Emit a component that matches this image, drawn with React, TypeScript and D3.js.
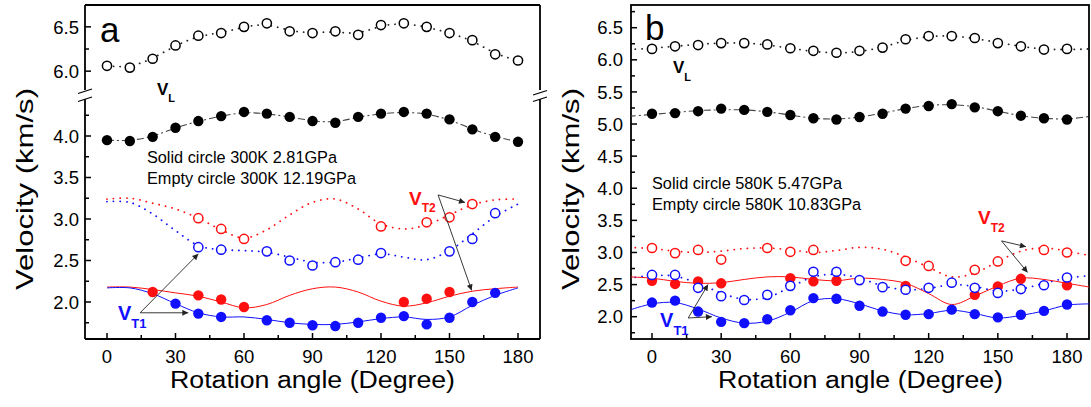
import React from "react";
import * as d3 from "d3";

// ---------- data ----------
const ANGLES = [0, 10, 20, 30, 40, 50, 60, 70, 80, 90, 100, 110, 120, 130, 140, 150, 160, 170, 180];
const FIT_ANGLES_B = [-10, 0, 10, 20, 30, 40, 50, 60, 70, 80, 90, 100, 110, 120, 130, 140, 150, 160, 170, 180, 190];
const X_MAJOR = [0, 30, 60, 90, 120, 150, 180];
const X_MINOR = [15, 45, 75, 105, 135, 165];
const Y_MAJOR_A_UPPER = [6.0, 6.5];
const Y_MINOR_A_UPPER = [6.25, 6.75];
const Y_MAJOR_A_LOWER = [2.0, 2.5, 3.0, 3.5, 4.0];
const Y_MINOR_A_LOWER = [1.75, 2.25, 2.75, 3.25, 3.75, 4.25];
const Y_MAJOR_B = [2.0, 2.5, 3.0, 3.5, 4.0, 4.5, 5.0, 5.5, 6.0, 6.5];
const Y_MINOR_B = [1.75, 2.25, 2.75, 3.25, 3.75, 4.25, 4.75, 5.25, 5.75, 6.25, 6.75];

// Panel a (300K)
const vLEmptyA = [6.06, 6.04, 6.14, 6.29, 6.40, 6.43, 6.50, 6.54, 6.45, 6.43, 6.45, 6.41, 6.52, 6.54, 6.50, 6.43, 6.35, 6.19, 6.12];
const vLSolidA = [3.95, 3.94, 3.99, 4.10, 4.18, 4.24, 4.29, 4.27, 4.23, 4.18, 4.16, 4.23, 4.27, 4.29, 4.27, 4.20, 4.08, 3.99, 3.93];
const redEmptyAAngles = [40, 50, 60, 120, 140, 150, 160];
const redEmptyA = [3.01, 2.88, 2.76, 2.91, 2.96, 3.02, 3.18];
const redEmptyFitA = [3.24, 3.25, 3.19, 3.12, 3.01, 2.87, 2.77, 2.87, 3.05, 3.20, 3.24, 3.12, 2.94, 2.88, 2.93, 3.05, 3.17, 3.23, 3.24];
const blueEmptyAAngles = [40, 50, 70, 80, 90, 100, 110, 120, 150, 160, 170];
const blueEmptyA = [2.66, 2.63, 2.61, 2.50, 2.44, 2.48, 2.51, 2.59, 2.61, 2.76, 3.07];
const blueEmptyFitA = [3.21, 3.20, 3.06, 2.86, 2.68, 2.63, 2.62, 2.60, 2.54, 2.48, 2.48, 2.53, 2.58, 2.54, 2.51, 2.62, 2.82, 3.03, 3.18];
const redSolidAAngles = [20, 40, 50, 60, 130, 140, 150];
const redSolidA = [2.12, 2.08, 2.03, 1.94, 2.00, 2.04, 2.12];
const redSolidFitA = [2.18, 2.18, 2.15, 2.11, 2.07, 2.00, 1.93, 1.97, 2.08, 2.16, 2.18, 2.12, 2.01, 1.95, 1.99, 2.07, 2.13, 2.16, 2.18];
const blueSolidAAngles = [30, 40, 50, 70, 80, 90, 100, 110, 120, 130, 140, 150, 160, 170];
const blueSolidA = [1.98, 1.86, 1.82, 1.78, 1.75, 1.72, 1.71, 1.75, 1.81, 1.83, 1.73, 1.81, 2.00, 2.11];
const blueSolidFitA = [2.17, 2.17, 2.10, 1.98, 1.87, 1.82, 1.82, 1.79, 1.75, 1.73, 1.73, 1.76, 1.80, 1.82, 1.79, 1.82, 1.96, 2.08, 2.17];

// Panel b (580K)
const vLEmptyB = [6.17, 6.21, 6.23, 6.26, 6.26, 6.24, 6.18, 6.14, 6.11, 6.14, 6.19, 6.32, 6.37, 6.37, 6.34, 6.26, 6.21, 6.16, 6.17];
const vLEmptyFitB = [6.16, 6.18, 6.21, 6.24, 6.26, 6.26, 6.23, 6.18, 6.13, 6.11, 6.13, 6.20, 6.30, 6.36, 6.37, 6.33, 6.27, 6.21, 6.17, 6.16, 6.17];
const vLSolidB = [5.16, 5.17, 5.20, 5.24, 5.22, 5.19, 5.14, 5.09, 5.07, 5.11, 5.16, 5.24, 5.28, 5.31, 5.26, 5.20, 5.13, 5.09, 5.07];
const vLSolidFitB = [5.12, 5.15, 5.18, 5.21, 5.22, 5.22, 5.19, 5.14, 5.09, 5.08, 5.11, 5.17, 5.24, 5.29, 5.30, 5.27, 5.20, 5.13, 5.09, 5.08, 5.12];
const redEmptyBAngles = [0, 10, 20, 30, 50, 60, 70, 110, 120, 140, 150, 170, 180];
const redEmptyB = [3.07, 2.99, 3.04, 2.89, 3.07, 3.01, 3.04, 2.87, 2.79, 2.73, 2.86, 3.04, 3.00];
const redEmptyFitB = [3.08, 3.06, 3.02, 3.00, 3.02, 3.06, 3.07, 3.04, 3.00, 3.03, 3.08, 3.05, 2.93, 2.77, 2.62, 2.68, 2.86, 3.02, 3.07, 3.02, 2.95];
const blueEmptyB = [2.65, 2.65, 2.45, 2.32, 2.26, 2.34, 2.48, 2.70, 2.70, 2.57, 2.46, 2.42, 2.45, 2.53, 2.45, 2.37, 2.43, 2.49, 2.61];
const blueEmptyFitB = [2.60, 2.64, 2.63, 2.52, 2.37, 2.27, 2.30, 2.46, 2.62, 2.66, 2.60, 2.48, 2.42, 2.44, 2.50, 2.47, 2.40, 2.43, 2.52, 2.60, 2.64];
const redSolidBAngles = [0, 10, 20, 30, 60, 70, 80, 110, 140, 150, 160, 180];
const redSolidB = [2.56, 2.51, 2.55, 2.52, 2.60, 2.55, 2.56, 2.48, 2.34, 2.47, 2.59, 2.49];
const redSolidFitB = [2.62, 2.60, 2.55, 2.52, 2.53, 2.58, 2.62, 2.62, 2.58, 2.56, 2.60, 2.58, 2.52, 2.36, 2.19, 2.32, 2.48, 2.60, 2.58, 2.52, 2.46];
const blueSolidB = [2.22, 2.25, 2.08, 1.92, 1.90, 1.96, 2.10, 2.29, 2.28, 2.17, 2.08, 2.03, 2.04, 2.11, 2.04, 1.99, 2.03, 2.09, 2.19];
const blueSolidFitB = [2.10, 2.20, 2.22, 2.12, 1.98, 1.90, 1.93, 2.07, 2.25, 2.28, 2.20, 2.09, 2.03, 2.05, 2.10, 2.05, 1.98, 2.02, 2.09, 2.18, 2.20];

const LEGEND_A = ["Solid circle 300K 2.81GPa", "Empty circle 300K 12.19GPa"];
const LEGEND_B = ["Solid circle 580K 5.47GPa", "Empty circle 580K 10.83GPa"];

// ---------- style ----------
const FONT = "'Liberation Sans', Arial, Helvetica, sans-serif";
const RED = "#ff1010";
const BLUE = "#1010ff";
const fmt = d3.format(".1f");

type Scale = d3.ScaleLinear<number, number>;

function path(xs: number[], ys: number[], x: Scale, y: Scale, curve: d3.CurveFactory) {
  const pts = xs.map((a, i) => [a, ys[i]] as [number, number]);
  return d3.line<[number, number]>().x((d) => x(d[0])).y((d) => y(d[1])).curve(curve)(pts) || "";
}

function Dots({ xs, ys, x, y, color, empty }: { xs: number[]; ys: number[]; x: Scale; y: Scale; color: string; empty: boolean }) {
  return (
    <g>
      {xs.map((a, i) => (
        <circle
          key={i}
          cx={x(a)}
          cy={y(ys[i])}
          r={empty ? 4.6 : 5.2}
          fill={empty ? "white" : color}
          stroke={color}
          strokeWidth={empty ? 1.5 : 0}
        />
      ))}
    </g>
  );
}

const dotted = (color: string) => ({ fill: "none", stroke: color, strokeWidth: 1.8, strokeDasharray: "0.1 6.5", strokeLinecap: "round" as const });
const solidLine = (color: string) => ({ fill: "none", stroke: color, strokeWidth: 1 });
const dashDot = { fill: "none", stroke: "#444", strokeWidth: 1.1, strokeDasharray: "7 3 2 3" };

function Arrow({ x1, y1, x2, y2 }: { x1: number; y1: number; x2: number; y2: number }) {
  return <line x1={x1} y1={y1} x2={x2} y2={y2} stroke="#222" strokeWidth={0.9} markerEnd="url(#arrowhead)" />;
}

function Label({ x, y, main, sub, color, size, subSize, subDy }: { x: number; y: number; main: string; sub: string; color: string; size: number; subSize: number; subDy: number }) {
  return (
    <text x={x} y={y} fill={color} fontFamily={FONT} fontWeight="bold" fontSize={size}>
      {main}
      <tspan dy={subDy} fontSize={subSize}>{sub}</tspan>
    </text>
  );
}

function XAxis({ x, bottom, cx }: { x: Scale; bottom: number; cx: number }) {
  return (
    <g>
      {X_MAJOR.map((t) => (
        <g key={"M" + t}>
          <line x1={x(t)} x2={x(t)} y1={bottom} y2={bottom - 6} stroke="black" strokeWidth={1.5} />
          <text x={x(t)} y={363} textAnchor="middle" fontFamily={FONT} fontSize={18.5}>{t}</text>
        </g>
      ))}
      {X_MINOR.map((t) => (
        <line key={"m" + t} x1={x(t)} x2={x(t)} y1={bottom} y2={bottom - 4} stroke="black" strokeWidth={1.5} />
      ))}
      <text x={cx - 142} y={388} fontFamily={FONT} fontSize={23.5} textLength={285} lengthAdjust="spacingAndGlyphs">Rotation angle (Degree)</text>
    </g>
  );
}

function YTicks({ y, left, labelX, major, minor }: { y: Scale; left: number; labelX: number; major: number[]; minor: number[] }) {
  return (
    <g>
      {major.map((t) => (
        <g key={"M" + t}>
          <line x1={left} x2={left + 6} y1={y(t)} y2={y(t)} stroke="black" strokeWidth={1.5} />
          <text x={labelX} y={y(t)} dy="0.36em" textAnchor="end" fontFamily={FONT} fontSize={18.5}>{fmt(t)}</text>
        </g>
      ))}
      {minor.map((t) => (
        <line key={"m" + t} x1={left} x2={left + 4} y1={y(t)} y2={y(t)} stroke="black" strokeWidth={1.5} />
      ))}
    </g>
  );
}

function YTitle({ x, cy }: { x: number; cy: number }) {
  return (
    <text transform={`translate(${x},${cy + 101}) rotate(-90)`} fontFamily={FONT} fontSize={24} textLength={202} lengthAdjust="spacingAndGlyphs">
      Velocity (km/s)
    </text>
  );
}

function PanelA() {
  const left = 85, right = 540, top = 5, bottom = 339;
  const x = d3.scaleLinear().domain([0, 180]).range([107, 518]);
  const yU = d3.scaleLinear().domain([6.0, 6.5]).range([71.15, 26.85]);
  const yL = d3.scaleLinear().domain([2.0, 4.0]).range([302, 136]);
  const gapTop = 90, gapBot = 99;
  const curve = d3.curveCatmullRom;
  return (
    <g>
      {/* frame */}
      <g stroke="black" strokeWidth={1.8} fill="none">
        <line x1={left} x2={right} y1={top} y2={top} />
        <line x1={left} x2={right} y1={bottom} y2={bottom} />
        <line x1={left} x2={left} y1={top} y2={gapTop} />
        <line x1={left} x2={left} y1={gapBot} y2={bottom} />
        <line x1={right} x2={right} y1={top} y2={gapTop} />
        <line x1={right} x2={right} y1={gapBot} y2={bottom} />
      </g>
      <g stroke="black" strokeWidth={1.3}>
        <line x1={left - 7} y1={93.5} x2={left + 7} y2={89} />
        <line x1={left - 7} y1={101.5} x2={left + 7} y2={97} />
        <line x1={right - 7} y1={95} x2={right + 7} y2={90.5} />
        <line x1={right - 7} y1={101.5} x2={right + 7} y2={97} />
      </g>
      <YTicks y={yU} left={left} labelX={79} major={Y_MAJOR_A_UPPER} minor={Y_MINOR_A_UPPER} />
      <YTicks y={yL} left={left} labelX={79} major={Y_MAJOR_A_LOWER} minor={Y_MINOR_A_LOWER} />
      <XAxis x={x} bottom={bottom} cx={312} />
      <YTitle x={33} cy={189} />

      {/* lines */}
      <path d={path(ANGLES, vLEmptyA, x, yU, d3.curveBasis)} {...dotted("#222")} />
      <path d={path(ANGLES, vLSolidA, x, yL, d3.curveBasis)} {...dashDot} />
      <path d={path(ANGLES, redEmptyFitA, x, yL, curve)} {...dotted(RED)} />
      <path d={path(ANGLES, blueEmptyFitA, x, yL, curve)} {...dotted(BLUE)} />
      <path d={path(ANGLES, redSolidFitA, x, yL, curve)} {...solidLine(RED)} />
      <path d={path(ANGLES, blueSolidFitA, x, yL, curve)} {...solidLine(BLUE)} />

      {/* markers */}
      <Dots xs={ANGLES} ys={vLEmptyA} x={x} y={yU} color="black" empty />
      <Dots xs={ANGLES} ys={vLSolidA} x={x} y={yL} color="black" empty={false} />
      <Dots xs={redEmptyAAngles} ys={redEmptyA} x={x} y={yL} color={RED} empty />
      <Dots xs={blueEmptyAAngles} ys={blueEmptyA} x={x} y={yL} color={BLUE} empty />
      <Dots xs={redSolidAAngles} ys={redSolidA} x={x} y={yL} color={RED} empty={false} />
      <Dots xs={blueSolidAAngles} ys={blueSolidA} x={x} y={yL} color={BLUE} empty={false} />

      {/* annotations */}
      <text x={100} y={42} fontFamily={FONT} fontSize={35}>a</text>
      <Label x={x(21.9)} y={95} main="V" sub="L" color="black" size={17} subSize={11} subDy={7} />
      {LEGEND_A.map((s, i) => (
        <text key={s} x={x(17.5)} y={163 + i * 21} fontFamily={FONT} fontSize={16.3}>{s}</text>
      ))}
      <Label x={x(132.3)} y={yL(3.17)} main="V" sub="T2" color={RED} size={19} subSize={12} subDy={7} />
      <Label x={x(4.8)} y={yL(1.78)} main="V" sub="T1" color={BLUE} size={20} subSize={13} subDy={8} />
      <Arrow x1={x(145)} y1={yL(3.29)} x2={x(156.8)} y2={yL(3.20)} />
      <Arrow x1={x(145)} y1={yL(3.29)} x2={x(159.7)} y2={yL(2.14)} />
      <Arrow x1={x(14.5)} y1={yL(1.87)} x2={x(40)} y2={yL(2.58)} />
      <Arrow x1={x(14.5)} y1={yL(1.87)} x2={x(35.6)} y2={yL(1.87)} />
    </g>
  );
}

function PanelB() {
  const left = 631, right = 1089, top = 5, bottom = 339;
  const x = d3.scaleLinear().domain([0, 180]).range([652, 1067]);
  const y = d3.scaleLinear().domain([2.0, 6.5]).range([316.7, 27.7]);
  const curve = d3.curveCatmullRom;
  return (
    <g>
      <defs>
        <clipPath id="clipB">
          <rect x={left} y={top} width={right - left} height={bottom - top} />
        </clipPath>
      </defs>
      <rect x={left} y={top} width={right - left} height={bottom - top} fill="none" stroke="black" strokeWidth={1.8} />
      <YTicks y={y} left={left} labelX={623} major={Y_MAJOR_B} minor={Y_MINOR_B} />
      <XAxis x={x} bottom={bottom} cx={860} />
      <YTitle x={579} cy={189} />

      <g clipPath="url(#clipB)">
        <path d={path(FIT_ANGLES_B, vLEmptyFitB, x, y, curve)} {...dotted("#222")} />
        <path d={path(FIT_ANGLES_B, vLSolidFitB, x, y, curve)} {...dashDot} />
        <path d={path(FIT_ANGLES_B, redEmptyFitB, x, y, curve)} {...dotted(RED)} />
        <path d={path(FIT_ANGLES_B, blueEmptyFitB, x, y, curve)} {...dotted(BLUE)} />
        <path d={path(FIT_ANGLES_B, redSolidFitB, x, y, curve)} {...solidLine(RED)} />
        <path d={path(FIT_ANGLES_B, blueSolidFitB, x, y, curve)} {...solidLine(BLUE)} />
      </g>

      <Dots xs={ANGLES} ys={vLEmptyB} x={x} y={y} color="black" empty />
      <Dots xs={ANGLES} ys={vLSolidB} x={x} y={y} color="black" empty={false} />
      <Dots xs={redSolidBAngles} ys={redSolidB} x={x} y={y} color={RED} empty={false} />
      <Dots xs={ANGLES} ys={blueSolidB} x={x} y={y} color={BLUE} empty={false} />
      <Dots xs={redEmptyBAngles} ys={redEmptyB} x={x} y={y} color={RED} empty />
      <Dots xs={ANGLES} ys={blueEmptyB} x={x} y={y} color={BLUE} empty />

      <text x={645} y={40} fontFamily={FONT} fontSize={35}>b</text>
      <Label x={x(9.1)} y={y(5.80)} main="V" sub="L" color="black" size={17} subSize={11} subDy={8} />
      {LEGEND_B.map((s, i) => (
        <text key={s} x={x(0)} y={189 + i * 21} fontFamily={FONT} fontSize={16.3}>{s}</text>
      ))}
      <Label x={x(141.4)} y={y(3.44)} main="V" sub="T2" color={RED} size={19} subSize={12} subDy={8} />
      <Label x={x(3.5)} y={y(1.84)} main="V" sub="T1" color={BLUE} size={20} subSize={13} subDy={8} />
      <Arrow x1={x(151.6)} y1={y(3.18)} x2={x(162.2)} y2={y(3.09)} />
      <Arrow x1={x(151.6)} y1={y(3.18)} x2={x(162.9)} y2={y(2.69)} />
      <Arrow x1={x(15.7)} y1={y(1.98)} x2={x(24.3)} y2={y(2.50)} />
      <Arrow x1={x(15.7)} y1={y(1.98)} x2={x(26)} y2={y(2.0)} />
    </g>
  );
}

export default function App() {
  return (
    <svg width={1091} height={407} style={{ position: "absolute", left: 0, top: 0, background: "white" }}>
      <defs>
        <marker id="arrowhead" viewBox="0 0 10 10" refX={10} refY={5} markerWidth={8} markerHeight={6} markerUnits="userSpaceOnUse" orient="auto">
          <path d="M0,0 L10,5 L0,10 z" fill="#222" />
        </marker>
      </defs>
      <rect width={1091} height={407} fill="white" />
      <PanelA />
      <PanelB />
    </svg>
  );
}
